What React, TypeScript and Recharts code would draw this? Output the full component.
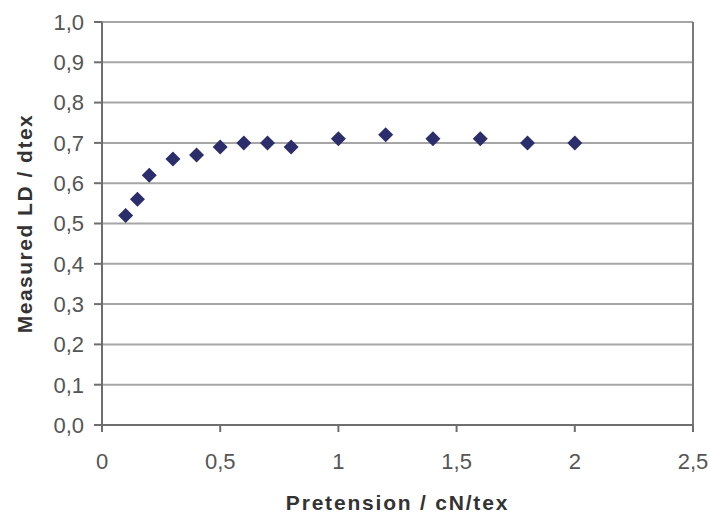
import {
  ReferenceLine,
  CartesianGrid,
  Scatter,
  ScatterChart,
  XAxis,
  YAxis,
} from "recharts";

// pretension (cN/tex) vs measured linear density (dtex)
const PRETENSION = [0.1, 0.15, 0.2, 0.3, 0.4, 0.5, 0.6, 0.7, 0.8, 1.0, 1.2, 1.4, 1.6, 1.8, 2.0];
const MEASURED_LD = [0.52, 0.56, 0.62, 0.66, 0.67, 0.69, 0.7, 0.7, 0.69, 0.71, 0.72, 0.71, 0.71, 0.7, 0.7];

const X_TICKS = [0, 0.5, 1, 1.5, 2, 2.5];
const Y_TICKS = [0, 0.1, 0.2, 0.3, 0.4, 0.5, 0.6, 0.7, 0.8, 0.9, 1.0];

const points = PRETENSION.map((x, i) => ({ x, y: MEASURED_LD[i] }));

const FONT = "'Liberation Sans', Arial, sans-serif";
const tickStyle = { fill: "#555", fontSize: 22, fontFamily: FONT };
const titleStyle = { fill: "#333", fontSize: 21, fontWeight: "bold", fontFamily: FONT };

const fmtX = (v: number) => String(v).replace(".", ",");
const fmtY = (v: number) => v.toFixed(1).replace(".", ",");

function Diamond(props: any) {
  const { cx, cy } = props;
  const r = 7.5;
  return (
    <polygon
      points={`${cx},${cy - r} ${cx + r},${cy} ${cx},${cy + r} ${cx - r},${cy}`}
      fill="#2c2e6c"
    />
  );
}

export default function App() {
  return (
    <div style={{ position: "absolute", left: 0, top: 0, background: "#fff" }}>
      <ScatterChart
        width={710}
        height={513}
        margin={{ top: 22, right: 17, bottom: 40, left: 0 }}
      >
        <CartesianGrid vertical={false} stroke="#a6a6a6" strokeWidth={2} />
        <XAxis
          type="number"
          dataKey="x"
          domain={[0, 2.5]}
          ticks={X_TICKS}
          tickFormatter={fmtX}
          height={48}
          stroke="#6e6e6e"
          strokeWidth={2}
          tickSize={7}
          tickMargin={21}
          tick={tickStyle}
          label={{
            value: "Pretension / cN/tex",
            position: "insideBottom",
            offset: -37,
            style: { ...titleStyle, letterSpacing: 1.8 },
          }}
        />
        <YAxis
          type="number"
          dataKey="y"
          domain={[0, 1]}
          ticks={Y_TICKS}
          tickFormatter={fmtY}
          width={102}
          stroke="#6e6e6e"
          strokeWidth={2}
          tickSize={8}
          tickMargin={10}
          tick={tickStyle}
          label={{
            value: "Measured LD / dtex",
            angle: -90,
            position: "insideLeft",
            offset: 25,
            style: { ...titleStyle, letterSpacing: 1.5, textAnchor: "middle" },
          }}
        />
        <ReferenceLine x={2.5} stroke="#7a7a7a" strokeWidth={2} />
        <Scatter data={points} shape={Diamond} isAnimationActive={false} />
      </ScatterChart>
    </div>
  );
}
